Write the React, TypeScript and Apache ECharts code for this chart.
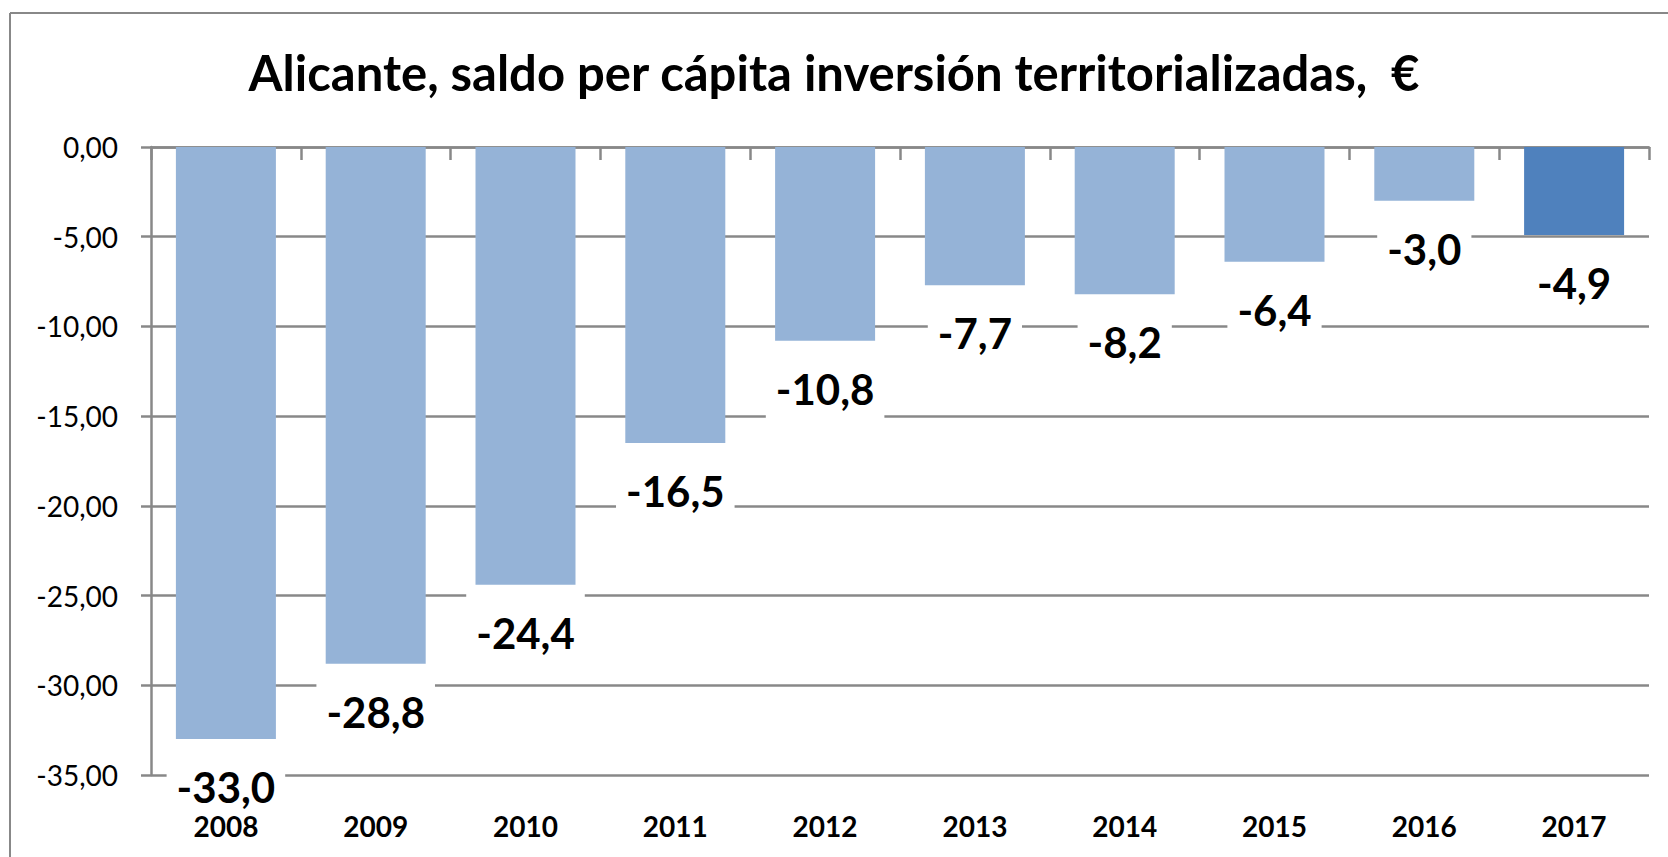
import React, { useEffect, useRef } from "react";
import * as echarts from "echarts";

const years = ["2008", "2009", "2010", "2011", "2012", "2013", "2014", "2015", "2016", "2017"];
const values = [-33.0, -28.8, -24.4, -16.5, -10.8, -7.7, -8.2, -6.4, -3.0, -4.9];
const barColors = ["#95B3D7", "#95B3D7", "#95B3D7", "#95B3D7", "#95B3D7", "#95B3D7", "#95B3D7", "#95B3D7", "#95B3D7", "#4F81BD"];
const titleText = "Alicante, saldo per cápita inversión territorializadas,  €";

const FONT = "Lato, 'Noto Sans', sans-serif";
const GRAY = "#888888";

export default function App() {
  const ref = useRef<HTMLDivElement>(null);
  useEffect(() => {
    if (!ref.current) return;
    const chart = echarts.init(ref.current, undefined, { renderer: "svg" });
    chart.setOption({
      animation: false,
      backgroundColor: "#ffffff",
      title: {
        text: titleText,
        left: "center",
        top: 47,
        padding: 0,
        textStyle: { fontFamily: FONT, fontSize: 49, fontWeight: "bold", color: "#000", lineHeight: 49 },
      },
      graphic: [
        { type: "line", shape: { x1: 10, y1: 13, x2: 10, y2: 857 }, style: { stroke: GRAY, lineWidth: 2 } },
        { type: "line", shape: { x1: 10, y1: 13, x2: 1668, y2: 13 }, style: { stroke: GRAY, lineWidth: 2 } },
      ],
      grid: { left: 151, right: 19, top: 147, bottom: 82, containLabel: false },
      xAxis: [
        {
          type: "category",
          data: years,
          position: "bottom",
          z: 10,
          axisLine: { show: false, onZero: false },
          axisTick: { show: false },
          splitLine: { show: false },
          axisLabel: { fontFamily: FONT, fontSize: 28, fontWeight: "bold", color: "#000", margin: 37, lineHeight: 28 },
        },
        {
          type: "category",
          data: years,
          position: "top",
          axisLine: { show: true, onZero: false, lineStyle: { color: GRAY, width: 2.5 } },
          axisTick: { show: true, inside: true, length: 13, lineStyle: { color: GRAY, width: 2.5 } },
          axisLabel: { show: false },
          splitLine: { show: false },
        },
      ],
      yAxis: {
        type: "value",
        min: -35,
        max: 0,
        interval: 5,
        axisLine: { show: true, lineStyle: { color: GRAY, width: 2.5 } },
        axisTick: { show: true, inside: false, length: 10, lineStyle: { color: GRAY, width: 2.5 } },
        splitLine: { show: true, lineStyle: { color: GRAY, width: 2.5 } },
        axisLabel: {
          fontFamily: FONT,
          fontSize: 28,
          color: "#000",
          margin: 33,
          padding: [10, 0, 0, 0],
          formatter: (v: number) => v.toFixed(2).replace(".", ",").replace("-0,00", "0,00"),
        },
      },
      series: [
        {
          type: "bar",
          xAxisIndex: 0,
          barWidth: 100,
          data: values.map((v, i) => ({ value: v, itemStyle: { color: barColors[i] } })),
          label: {
            show: true,
            position: "bottom",
            distance: 8,
            formatter: (p: any) => Number(p.value).toFixed(1).replace(".", ","),
            fontFamily: FONT,
            fontSize: 42,
            fontWeight: "bold",
            color: "#000",
            lineHeight: 42,
            backgroundColor: "#ffffff",
            padding: [19, 10, 10, 10],
          },
          z: 2,
        },
      ],
    });
    return () => chart.dispose();
  }, []);
  return (
    <div
      ref={ref}
      style={{ position: "fixed", left: 0, top: 0, width: 1668, height: 857, background: "#fff" }}
    />
  );
}
